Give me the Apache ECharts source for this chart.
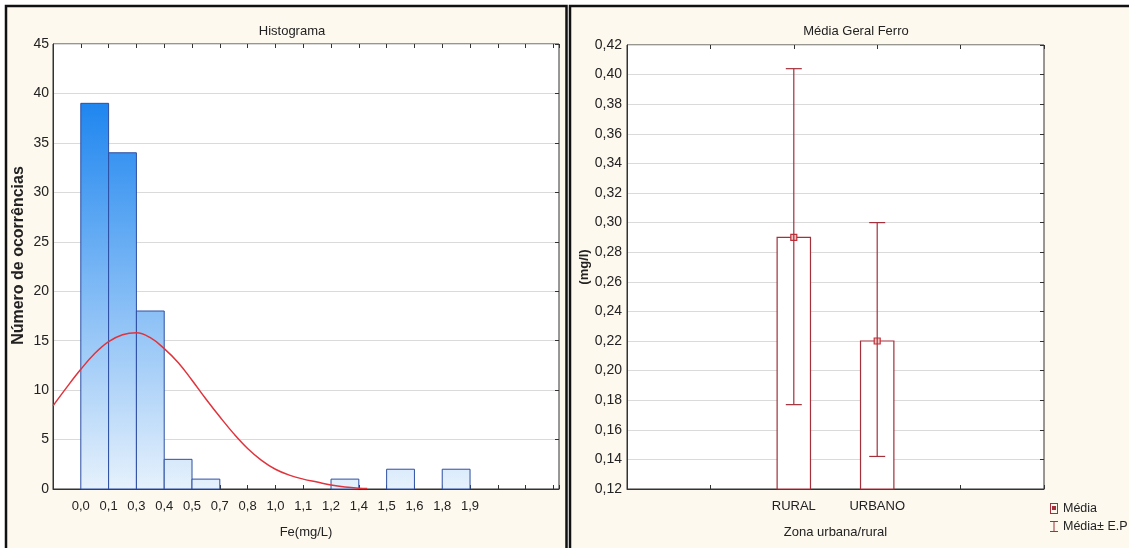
<!DOCTYPE html>
<html><head><meta charset="utf-8">
<script src="https://cdn.jsdelivr.net/npm/echarts@6/dist/echarts.min.js"></script>
<style>html,body{margin:0;padding:0;background:#fff;}#c{width:1129px;height:548px;}</style>
</head><body><div id="c"></div>
<script>
// ---- Histogram data (bins indexed 0..13, edges labelled) ----
const binLabels = ['0,0','0,1','0,3','0,4','0,5','0,7','0,8','1,0','1,1','1,2','1,4','1,5','1,6','1,8','1,9'];
const binCounts = [39, 34, 18, 3, 1, 0, 0, 0, 0, 1, 0, 2, 0, 2];
const curveX = [-1, -0.5, 0, 0.5, 1, 1.5, 2, 2.5, 3, 3.5, 4, 4.5, 5, 5.5, 6, 6.5, 7, 7.5, 8, 8.5, 9, 9.5, 10, 10.3];
const curveY = [8.4, 10.3, 12.1, 13.7, 14.9, 15.6, 15.8, 15.3, 14.2, 12.8, 11.0, 9.1, 7.3, 5.6, 4.1, 2.9, 2.0, 1.4, 1.0, 0.7, 0.4, 0.2, 0.08, 0.05];
// ---- Mean plot data ----
const zoneCats = ['', '', 'RURAL', 'URBANO', '', ''];
const zones = ['RURAL', 'URBANO'];
const means = [0.29, 0.22];
const upperEP = [0.404, 0.300];
const lowerEP = [0.177, 0.142];

const FONT = 'Liberation Sans, Arial, sans-serif';
const TXT = '#222';
const chart = echarts.init(document.getElementById('c'), null, {renderer: 'canvas'});

const histData = binCounts.map((c, i) => [i, c]);
const curveData = curveX.map((x, i) => [x, curveY[i]]);
const meanData = zones.map((z, i) => [z, means[i]]);
const epData = zones.map((z, i) => [z, lowerEP[i], upperEP[i]]);

const darkRed = '#a3303a';
const tickStyle = {show: true, inside: true, length: 4, lineStyle: {color: '#333'}};

const option = {
  animation: false,
  backgroundColor: '#ffffff',
  textStyle: {fontFamily: FONT},
  graphic: [
    {type: 'rect', z: -100, shape: {x: 6, y: 6, width: 560.5, height: 600}, style: {fill: '#fef9ef', stroke: '#111', lineWidth: 2.5}, silent: true},
    {type: 'rect', z: -100, shape: {x: 570, y: 6, width: 600, height: 600}, style: {fill: '#fef9ef', stroke: '#111', lineWidth: 2.5}, silent: true}
  ],
  title: [
    {text: 'Histograma', left: 287, top: 20, textAlign: 'center', textStyle: {fontSize: 13, fontWeight: 'normal', color: TXT, fontFamily: FONT}},
    {text: 'Média Geral Ferro', left: 851, top: 20, textAlign: 'center', textStyle: {fontSize: 13, fontWeight: 'normal', color: TXT, fontFamily: FONT}}
  ],
  legend: {
    orient: 'vertical', left: 1050, top: 502, itemWidth: 8, itemHeight: 11, itemGap: 5, padding: 0,
    textStyle: {fontSize: 12.5, color: TXT, fontFamily: FONT},
    data: [
      {name: 'Média', icon: 'path://M0,0h8v11h-8z M1,1v9h6v-9z M2,3h4v4h-4z'},
      {name: 'Média± E.P', icon: 'path://M0,0h8v1h-3.5v9h3.5v1h-8v-1h3.5v-9h-3.5z'}
    ]
  },
  grid: [
    {left: 53, top: 44, width: 506, height: 445, show: true, backgroundColor: '#fff', borderColor: '#333', borderWidth: 1},
    {left: 627, top: 45, width: 417, height: 444, show: true, backgroundColor: '#fff', borderColor: '#333', borderWidth: 1}
  ],
  xAxis: [
    {gridIndex: 0, type: 'value', min: -1, max: 17.2, interval: 1, position: 'bottom',
     name: 'Fe(mg/L)', nameLocation: 'middle', nameGap: 37, nameTextStyle: {fontSize: 13, color: TXT},
     axisLine: {show: true, onZero: false, lineStyle: {color: '#333'}}, axisTick: tickStyle,
     axisLabel: {fontSize: 13, color: TXT, margin: 11, formatter: v => (binLabels[v] !== undefined ? binLabels[v] : '')},
     splitLine: {show: false}},
    {gridIndex: 0, type: 'value', min: -1, max: 17.2, interval: 1, position: 'top',
     axisLine: {show: false, onZero: false}, axisTick: tickStyle,
     axisLabel: {show: false}, splitLine: {show: false}},
    {gridIndex: 1, type: 'category', data: zoneCats, boundaryGap: false, position: 'bottom',
     name: 'Zona urbana/rural', nameLocation: 'middle', nameGap: 37, nameTextStyle: {fontSize: 13, color: TXT},
     axisLine: {show: true, onZero: false, lineStyle: {color: '#333'}}, axisTick: tickStyle,
     axisLabel: {fontSize: 13, color: TXT, margin: 11, interval: 0}, splitLine: {show: false}},
    {gridIndex: 1, type: 'category', data: zoneCats, boundaryGap: false, position: 'top',
     axisLine: {show: false, onZero: false}, axisTick: tickStyle,
     axisLabel: {show: false}, splitLine: {show: false}}
  ],
  yAxis: [
    {gridIndex: 0, type: 'value', min: 0, max: 45, interval: 5, position: 'left',
     name: 'Número de ocorrências', nameLocation: 'middle', nameGap: 26,
     nameTextStyle: {fontSize: 16, fontWeight: 'bold', color: TXT, padding: [0, 0, 0, 22]},
     axisLine: {show: true, onZero: false, lineStyle: {color: '#333'}}, axisTick: {show: false},
     axisLabel: {fontSize: 14, color: TXT, margin: 4},
     splitLine: {show: true, lineStyle: {color: '#dadada', width: 1}}},
    {gridIndex: 0, type: 'value', min: 0, max: 45, interval: 5, position: 'right',
     axisLine: {show: false, onZero: false}, axisTick: tickStyle,
     axisLabel: {show: false}, splitLine: {show: false}},
    {gridIndex: 1, type: 'value', min: 0.12, max: 0.42, interval: 0.02, position: 'left',
     name: '(mg/l)', nameLocation: 'middle', nameGap: 32,
     nameTextStyle: {fontSize: 13, fontWeight: 'bold', color: TXT},
     axisLine: {show: true, onZero: false, lineStyle: {color: '#333'}}, axisTick: {show: false},
     axisLabel: {fontSize: 14, color: TXT, margin: 5, formatter: v => v.toFixed(2).replace('.', ',')},
     splitLine: {show: true, lineStyle: {color: '#dadada', width: 1}}},
    {gridIndex: 1, type: 'value', min: 0.12, max: 0.42, interval: 0.02, position: 'right',
     axisLine: {show: false, onZero: false}, axisTick: tickStyle,
     axisLabel: {show: false}, splitLine: {show: false}}
  ],
  series: [
    {
      name: 'Histograma', type: 'custom', xAxisIndex: 0, yAxisIndex: 0, data: histData,
      renderItem: function (params, api) {
        const i = api.value(0), c = api.value(1);
        if (!c) return null;
        const p0 = api.coord([i, c]);
        const p1 = api.coord([i + 1, 0]);
        const gTop = api.coord([0, 39])[1];
        const gBot = api.coord([0, 0])[1];
        return {
          type: 'rect',
          shape: {x: p0[0], y: p0[1], width: p1[0] - p0[0], height: p1[1] - p0[1]},
          style: {
            fill: new echarts.graphic.LinearGradient(0, gTop, 0, gBot, [
              {offset: 0, color: '#1f86ef'}, {offset: 1, color: '#e6f1fc'}], true),
            stroke: '#2c4ea3', lineWidth: 1
          }
        };
      }
    },
    {
      name: 'Normal', type: 'line', xAxisIndex: 0, yAxisIndex: 0, data: curveData,
      smooth: 0.4, symbol: 'none', lineStyle: {color: '#e0343d', width: 1.5}, z: 5
    },
    {
      name: 'Média', type: 'custom', xAxisIndex: 2, yAxisIndex: 2, data: meanData,
      itemStyle: {color: darkRed},
      renderItem: function (params, api) {
        const x = api.value(0), m = api.value(1);
        const top = api.coord([x, m]);
        const base = api.coord([x, 0.12]);
        const w = api.size([1, 0])[0] * 0.4;
        return {
          type: 'group',
          children: [
            {type: 'rect', shape: {x: top[0] - w / 2, y: top[1], width: w, height: base[1] - top[1]},
             style: {fill: '#ffffff', stroke: darkRed, lineWidth: 1.2}},
            {type: 'rect', z2: 10, shape: {x: top[0] - 3, y: top[1] - 3, width: 6, height: 6},
             style: {fill: '#f3c4c4', stroke: '#c0303a', lineWidth: 1.2}}
          ]
        };
      }
    },
    {
      name: 'Média± E.P', type: 'custom', xAxisIndex: 2, yAxisIndex: 2, data: epData,
      itemStyle: {color: darkRed}, z: 3,
      renderItem: function (params, api) {
        const x = api.value(0);
        const lo = api.coord([x, api.value(1)]);
        const hi = api.coord([x, api.value(2)]);
        const cw = 8;
        const st = {stroke: darkRed, lineWidth: 1.2};
        return {
          type: 'group',
          children: [
            {type: 'line', shape: {x1: hi[0], y1: hi[1], x2: lo[0], y2: lo[1]}, style: st},
            {type: 'line', shape: {x1: hi[0] - cw, y1: hi[1], x2: hi[0] + cw, y2: hi[1]}, style: st},
            {type: 'line', shape: {x1: lo[0] - cw, y1: lo[1], x2: lo[0] + cw, y2: lo[1]}, style: st}
          ]
        };
      }
    }
  ]
};
chart.setOption(option);
</script>
</body></html>
